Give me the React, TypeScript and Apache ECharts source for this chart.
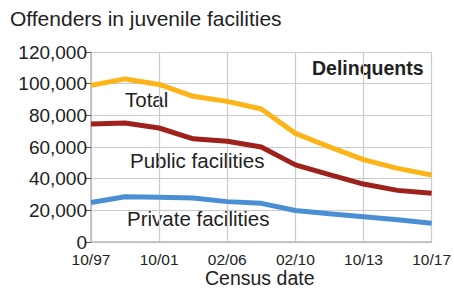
import React, { useEffect, useRef } from "react";
import * as echarts from "echarts";

const categories = ["10/97", "10/99", "10/01", "10/03", "02/06", "10/07", "02/10", "10/11", "10/13", "10/15", "10/17"];
const totalValues = [98900, 103000, 99500, 92000, 88800, 84000, 68600, 60100, 52000, 46500, 42300];
const publicValues = [74500, 75100, 72000, 65200, 63600, 60000, 48700, 42500, 36600, 32600, 30800];
const privateValues = [25000, 28600, 28200, 27800, 25500, 24400, 19900, 17800, 16000, 14000, 11900];

const FONT = "'Liberation Sans', Arial, Helvetica, sans-serif";
const TEXT = "#222";

export default function App() {
  const ref = useRef<HTMLDivElement>(null);
  useEffect(() => {
    if (!ref.current) return;
    const chart = echarts.init(ref.current, undefined, { renderer: "svg" });
    const mkSeries = (name: string, data: number[], color: string) => ({
      name,
      type: "line",
      data,
      symbol: "none",
      lineStyle: { color, width: 5 },
      itemStyle: { color },
      z: 3,
    });
    chart.setOption({
      animation: false,
      backgroundColor: "#fff",
      textStyle: { fontFamily: FONT },
      grid: { left: 91, right: 20, top: 52, bottom: 46, containLabel: false },
      xAxis: {
        type: "category",
        data: categories,
        boundaryGap: false,
        axisLine: { show: true, lineStyle: { color: "#b8b8bc", width: 1.5 } },
        axisTick: { show: false },
        axisLabel: {
          interval: 1,
          fontSize: 15.5,
          color: TEXT,
          fontFamily: FONT,
          margin: 9,
        },
        splitLine: { show: true, lineStyle: { color: "#cbcbcf", width: 1.2 } },
      },
      yAxis: {
        type: "value",
        min: 0,
        max: 120000,
        interval: 20000,
        axisLine: { show: true, lineStyle: { color: "#b8b8bc", width: 1.5 } },
        axisTick: { show: true, length: 5, lineStyle: { color: "#555" } },
        axisLabel: {
          fontSize: 19,
          color: TEXT,
          fontFamily: FONT,
          margin: 4,
          formatter: (v: number) => v.toLocaleString("en-US"),
        },
        splitLine: { show: true, lineStyle: { color: "#cbcbcf", width: 1.2 } },
      },
      series: [
        mkSeries("Total", totalValues, "#fcb418"),
        mkSeries("Public facilities", publicValues, "#9e211c"),
        mkSeries("Private facilities", privateValues, "#4a8fd3"),
      ],
      graphic: [
        { type: "text", left: 10, top: 8, style: { text: "Offenders in juvenile facilities", fontSize: 21, fill: TEXT, fontFamily: FONT } },
        { type: "text", left: 312, top: 58, style: { text: "Delinquents", fontSize: 19.5, fontWeight: "bold", fill: TEXT, fontFamily: FONT } },
        { type: "text", left: 125, top: 89, style: { text: "Total", fontSize: 20.5, fill: TEXT, fontFamily: FONT } },
        { type: "text", left: 130, top: 150, style: { text: "Public facilities", fontSize: 20.5, fill: TEXT, fontFamily: FONT } },
        { type: "text", left: 127, top: 208, style: { text: "Private facilities", fontSize: 20.5, fill: TEXT, fontFamily: FONT } },
        { type: "text", left: 205, top: 268, style: { text: "Census date", fontSize: 19.5, fill: TEXT, fontFamily: FONT } },
      ],
    });
    return () => chart.dispose();
  }, []);
  return <div ref={ref} style={{ position: "fixed", left: 0, top: 0, width: 454, height: 288 }} />;
}
